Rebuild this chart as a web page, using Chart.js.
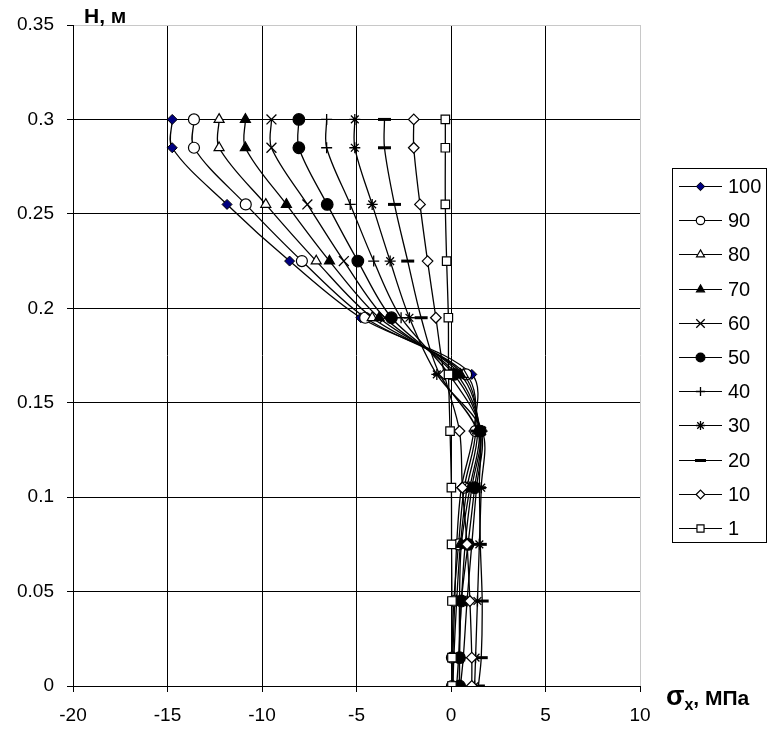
<!DOCTYPE html>
<html>
<head>
<meta charset="utf-8">
<script src="https://cdn.jsdelivr.net/npm/chart.js@4/dist/chart.umd.min.js"></script>
<style>
  html, body { margin: 0; padding: 0; background: #fff; }
  #wrap { width: 768px; height: 732px; }
</style>
</head>
<body>
<div id="wrap"><canvas id="c" width="768" height="732"></canvas></div>
<script>
// Heights (m) at which stresses were computed
const levels = [0.3, 0.285, 0.255, 0.225, 0.195, 0.165, 0.135, 0.105, 0.075, 0.045, 0.015, 0];
// Series names (load levels)
const seriesNames = ['100', '90', '80', '70', '60', '50', '40', '30', '20', '10', '1'];
// σx values (MPa) per series, top to bottom
const s100 = [-14.75, -14.75, -11.85, -8.54, -4.77, 1.10, 1.20, 0.55, 0.30, 0.20, 0.10, 0.10];
const s90  = [-13.60, -13.60, -10.86, -7.89, -4.54, 0.80, 1.30, 0.70, 0.40, 0.15, 0.05, 0.05];
const s80  = [-12.27, -12.27, -9.80, -7.13, -4.17, 0.65, 1.40, 0.85, 0.50, 0.30, 0.15, 0.10];
const s70  = [-10.88, -10.88, -8.71, -6.43, -3.80, 0.50, 1.50, 1.00, 0.55, 0.45, 0.45, 0.45];
const s60  = [-9.50, -9.50, -7.60, -5.67, -3.50, 0.30, 1.55, 1.10, 0.75, 0.55, 0.40, 0.30];
const s50  = [-8.05, -8.05, -6.55, -4.93, -3.15, 0.15, 1.55, 1.25, 0.90, 0.55, 0.45, 0.45];
const s40  = [-6.58, -6.58, -5.33, -4.09, -2.64, -0.10, 1.60, 1.35, 1.10, 0.85, 0.65, 0.50];
const s30  = [-5.09, -5.09, -4.17, -3.22, -2.20, -0.75, 1.65, 1.60, 1.50, 1.40, 1.30, 1.25];
const s20  = [-3.52, -3.52, -2.99, -2.29, -1.58, -0.60, 1.40, 1.50, 1.55, 1.65, 1.60, 1.45];
const s10  = [-1.97, -1.97, -1.64, -1.24, -0.80, -0.35, 0.45, 0.60, 0.85, 1.00, 1.10, 1.10];
const s1   = [-0.30, -0.30, -0.30, -0.23, -0.14, -0.13, -0.05, 0.02, 0.03, 0.05, 0.05, 0.05];
const seriesValues = [s100, s90, s80, s70, s60, s50, s40, s30, s20, s10, s1];
// Axis tick values
const xTicks = [-20, -15, -10, -5, 0, 5, 10];
const yTicks = [0, 0.05, 0.1, 0.15, 0.2, 0.25, 0.3, 0.35];

// Marker styles (kept apart from data)
const markerStyles = [
  { style: 'rectRot',  fill: '#000080', r: 5,   lr: 4.2, bw: 1 },
  { style: 'circle',   fill: '#ffffff', r: 5.5, lr: 4.2, bw: 1.2 },
  { style: 'triangle', fill: '#ffffff', r: 5.8, lr: 4.6, bw: 1.2 },
  { style: 'triangle', fill: '#000000', r: 5.8, lr: 4.6, bw: 1.2 },
  { style: 'crossRot', fill: '#000000', r: 7,   lr: 6,   bw: 1.3 },
  { style: 'circle',   fill: '#000000', r: 5.8, lr: 4.4, bw: 1.2 },
  { style: 'cross',    fill: '#000000', r: 5.5, lr: 4.6, bw: 1.3 },
  { style: 'star',     fill: '#000000', r: 5.5, lr: 4.6, bw: 1.3 },
  { style: 'line',     fill: '#000000', r: 6.5, lr: 5.5, bw: 3 },
  { style: 'rectRot',  fill: '#ffffff', r: 5.3, lr: 4.4, bw: 1.2 },
  { style: 'rect',     fill: '#ffffff', r: 6,   lr: 5,   bw: 1.2 }
];

const datasets = seriesNames.map((name, i) => ({
  label: name,
  data: levels.map((h, k) => ({ x: seriesValues[i][k], y: h })),
  showLine: true,
  borderColor: '#000',
  borderWidth: 1.3,
  tension: 0.33,
  fill: false,
  pointStyle: markerStyles[i].style,
  pointRadius: markerStyles[i].r,
  pointBackgroundColor: markerStyles[i].fill,
  pointBorderColor: '#000',
  pointBorderWidth: markerStyles[i].bw,
  order: seriesNames.length - i
}));

const FONT = '"Liberation Sans", Arial, sans-serif';

const extras = {
  id: 'extras',
  afterDraw(chart) {
    const ctx = chart.ctx;
    ctx.save();
    // Legend box
    const bx = 672.5, by = 168.5, bw = 94, bh = 374;
    ctx.strokeStyle = '#000';
    ctx.lineWidth = 1;
    ctx.strokeRect(bx, by, bw, bh);
    ctx.font = '20px ' + FONT;
    ctx.textBaseline = 'middle';
    ctx.textAlign = 'left';
    seriesNames.forEach((name, i) => {
      const y = Math.round(186 + i * 34.2) + 0.5;
      ctx.strokeStyle = '#000';
      ctx.lineWidth = 1.2;
      ctx.beginPath();
      ctx.moveTo(679, y);
      ctx.lineTo(722, y);
      ctx.stroke();
      const m = markerStyles[i];
      ctx.fillStyle = m.fill;
      ctx.strokeStyle = '#000';
      ctx.lineWidth = m.bw;
      Chart.helpers.drawPoint(ctx, { pointStyle: m.style, radius: m.lr, rotation: 0, borderWidth: m.bw }, 700.5, y);
      ctx.fillStyle = '#000';
      ctx.fillText(name, 728, y + 1);
    });
    // Axis titles
    ctx.fillStyle = '#000';
    ctx.textBaseline = 'alphabetic';
    ctx.font = 'bold 21px ' + FONT;
    ctx.fillText('H, м', 84, 23);
    ctx.font = 'bold 27px ' + FONT;
    ctx.fillText('σ', 666, 705);
    const sw = ctx.measureText('σ').width;
    ctx.font = 'bold 16px ' + FONT;
    ctx.fillText('x', 666 + sw, 710);
    const xw = ctx.measureText('x').width;
    ctx.font = 'bold 21px ' + FONT;
    ctx.fillText(', МПа', 666 + sw + xw, 705);
    ctx.restore();
  }
};

new Chart(document.getElementById('c'), {
  type: 'scatter',
  data: { datasets },
  plugins: [extras],
  options: {
    responsive: false,
    animation: false,
    devicePixelRatio: 1,
    layout: { padding: { left: 0, right: 128, top: 25, bottom: 0 } },
    plugins: { legend: { display: false }, tooltip: { enabled: false } },
    scales: {
      x: {
        type: 'linear',
        min: xTicks[0],
        max: xTicks[xTicks.length - 1],
        afterBuildTicks(scale) { scale.ticks = xTicks.map(v => ({ value: v })); },
        afterFit(scale) { scale.height = 46; },
        ticks: {
          color: '#000',
          font: { family: FONT, size: 19 },
          padding: 12,
          maxRotation: 0,
          callback: v => String(v)
        },
        grid: {
          color: c => (c.tick && c.tick.value === 10) ? '#c8c8c8' : '#000',
          lineWidth: 1,
          tickLength: 6,
          tickColor: '#000',
          drawTicks: true
        },
        border: { display: true, color: '#000', width: 1 }
      },
      y: {
        type: 'linear',
        min: yTicks[0],
        max: yTicks[yTicks.length - 1],
        afterBuildTicks(scale) { scale.ticks = yTicks.map(v => ({ value: v })); },
        afterFit(scale) { scale.width = 73; },
        ticks: {
          color: '#000',
          font: { family: FONT, size: 19 },
          padding: 13,
          callback: v => String(+(+v).toFixed(2))
        },
        grid: {
          color: c => (c.tick && Math.abs(c.tick.value - 0.35) < 1e-9) ? '#c8c8c8' : '#000',
          lineWidth: 1,
          tickLength: 6,
          tickColor: '#000',
          drawTicks: true
        },
        border: { display: true, color: '#000', width: 1 }
      }
    }
  }
});
</script>
</body>
</html>
